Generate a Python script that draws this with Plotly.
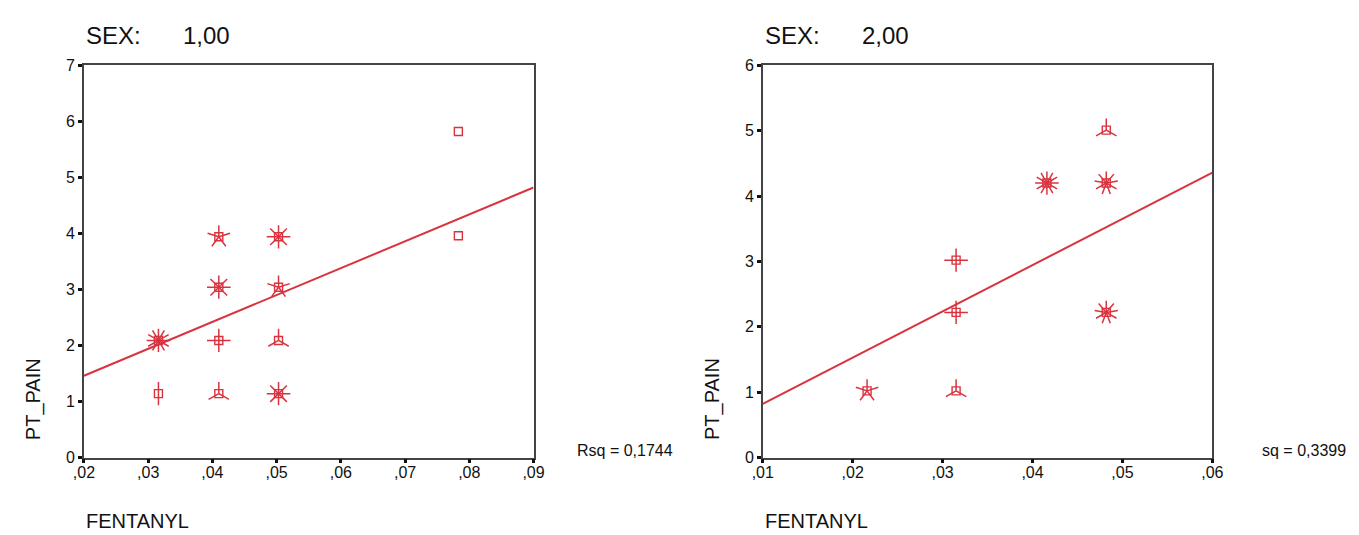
import math
import plotly.graph_objects as go

W, H = 1359, 535
RED = "#d9333f"
FONT = "Liberation Sans, Arial, sans-serif"

# ---------------- data ----------------
# Panel 1: SEX 1,00  (sunflower centres and number of cases in each)
p1_x = [0.0316, 0.0316, 0.0410, 0.0410, 0.0410, 0.0410, 0.0503, 0.0503, 0.0503, 0.0503, 0.0783, 0.0783]
p1_y = [1.14, 2.09, 1.14, 2.09, 3.04, 3.94, 1.14, 2.09, 3.04, 3.94, 5.82, 3.96]
p1_n = [2, 12, 3, 4, 8, 5, 8, 3, 5, 8, 1, 1]
p1_fit_x = [0.02, 0.09]
p1_fit_y = [1.46, 4.82]
p1_rsq = "Rsq = 0,1744"

# Panel 2: SEX 2,00
p2_x = [0.0216, 0.0315, 0.0315, 0.0315, 0.0416, 0.0482, 0.0482, 0.0482]
p2_y = [1.02, 1.02, 2.22, 3.02, 4.20, 4.20, 5.01, 2.22]
p2_n = [5, 3, 4, 4, 12, 9, 3, 9]
p2_fit_x = [0.01, 0.06]
p2_fit_y = [0.82, 4.36]
p2_rsq = "sq = 0,3399"

p1_xticks = [0.02, 0.03, 0.04, 0.05, 0.06, 0.07, 0.08, 0.09]
p1_xtext = [",02", ",03", ",04", ",05", ",06", ",07", ",08", ",09"]
p1_yticks = [0, 1, 2, 3, 4, 5, 6, 7]
p2_xticks = [0.01, 0.02, 0.03, 0.04, 0.05, 0.06]
p2_xtext = [",01", ",02", ",03", ",04", ",05", ",06"]
p2_yticks = [0, 1, 2, 3, 4, 5, 6]

# ---------------- layout geometry (pixels) ----------------
panels = [
    dict(x=p1_x, y=p1_y, n=p1_n, fx=p1_fit_x, fy=p1_fit_y, rsq=p1_rsq,
         xr=[0.02, 0.09], yr=[0, 7], xt=p1_xticks, xtt=p1_xtext, yt=p1_yticks,
         left=66, right=523, title="1,00", rsq_gap=42),
    dict(x=p2_x, y=p2_y, n=p2_n, fx=p2_fit_x, fy=p2_fit_y, rsq=p2_rsq,
         xr=[0.01, 0.06], yr=[0, 6], xt=p2_xticks, xtt=p2_xtext, yt=p2_yticks,
         left=756, right=1213, title="2,00", rsq_gap=48),
]
TOP, BOTTOM = 51, 456
PETAL_PX = 12

fig = go.Figure()
layout = dict(width=W, height=H, margin=dict(l=0, r=0, t=0, b=0),
              paper_bgcolor="white", plot_bgcolor="white", showlegend=False,
              font=dict(family=FONT, color="#111"))
annotations = []

for i, p in enumerate(panels):
    ax = "" if i == 0 else str(i + 1)
    xref, yref = "x" + ax, "y" + ax
    pw = p["right"] - p["left"]
    ph = BOTTOM - TOP
    sx = (p["xr"][1] - p["xr"][0]) / pw  # data units per px
    sy = (p["yr"][1] - p["yr"][0]) / ph

    # regression line
    fig.add_trace(go.Scatter(x=p["fx"], y=p["fy"], mode="lines", xaxis=xref, yaxis=yref,
                             line=dict(color=RED, width=2), hoverinfo="skip"))
    # sunflower petals
    px, py = [], []
    for cx, cy, n in zip(p["x"], p["y"], p["n"]):
        if n < 2:
            continue
        for k in range(n):
            a = math.pi / 2 - 2 * math.pi * k / n
            px += [cx, cx + PETAL_PX * math.cos(a) * sx, None]
            py += [cy, cy + PETAL_PX * math.sin(a) * sy, None]
    fig.add_trace(go.Scatter(x=px, y=py, mode="lines", xaxis=xref, yaxis=yref,
                             line=dict(color=RED, width=1.5), hoverinfo="skip"))
    # centres
    fig.add_trace(go.Scatter(x=p["x"], y=p["y"], mode="markers", xaxis=xref, yaxis=yref,
                             marker=dict(symbol="square-open", size=8, color=RED,
                                         line=dict(color=RED, width=1.4))))

    axis_common = dict(showline=True, mirror=True, linecolor="#444", linewidth=1.5,
                       showgrid=False, zeroline=False, ticks="outside", ticklen=4,
                       tickwidth=3, tickcolor="#111", tickfont=dict(size=16, family=FONT, color="#111"))
    layout["xaxis" + ax] = dict(domain=[p["left"] / W, p["right"] / W], range=p["xr"],
                                tickmode="array", tickvals=p["xt"], ticktext=p["xtt"],
                                ticklabelstandoff=-4, anchor=yref, **axis_common)
    layout["yaxis" + ax] = dict(domain=[1 - BOTTOM / H, 1 - TOP / H], range=p["yr"],
                                tickmode="array", tickvals=p["yt"],
                                ticktext=[str(v) for v in p["yt"]],
                                ticklabelstandoff=0, anchor=xref, **axis_common)

    L = p["left"]
    annotations += [
        dict(text="SEX:", x=L / W, y=1 - 20 / H, xref="paper", yref="paper",
             xanchor="left", yanchor="middle", showarrow=False, font=dict(size=24)),
        dict(text=p["title"], x=(L + 99) / W, y=1 - 20 / H, xref="paper", yref="paper",
             xanchor="left", yanchor="middle", showarrow=False, font=dict(size=24)),
        dict(text="PT_PAIN", x=(L - 51) / W, y=1 - 396 / H, xref="paper", yref="paper",
             xanchor="center", yanchor="middle", textangle=-90, showarrow=False,
             font=dict(size=20)),
        dict(text="FENTANYL", x=L / W, y=1 - 522 / H, xref="paper", yref="paper",
             xanchor="left", yanchor="middle", showarrow=False, font=dict(size=20)),
        dict(text=p["rsq"], x=(p["right"] + p["rsq_gap"]) / W, y=1 - 449 / H,
             xref="paper", yref="paper", xanchor="left", yanchor="middle",
             showarrow=False, font=dict(size=16)),
    ]

layout["annotations"] = annotations
fig.update_layout(**layout)
fig.write_html("out.html")
